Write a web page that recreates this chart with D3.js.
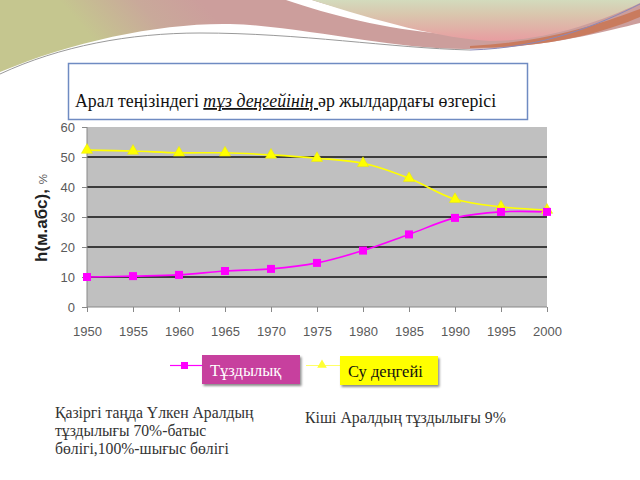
<!DOCTYPE html>
<html><head><meta charset="utf-8">
<script src="https://cdn.jsdelivr.net/npm/d3@7"></script>
<style>html,body{margin:0;padding:0;background:#fff;}svg{display:block;}</style>
</head><body>
<svg id="c" width="640" height="480"></svg>
<script>
const years = [1950,1955,1960,1965,1970,1975,1980,1985,1990,1995,2000];
const salinity = [10,10.3,10.7,12,12.7,14.7,18.8,24.2,29.7,31.7,31.7];
const waterLevel = [52.3,52,51.4,51.4,50.7,49.6,47.9,42.9,35.9,33.4,32.3];
const yTicks = [0,10,20,30,40,50,60];
const seriesNames = ["Тұздылық","Су деңгейі"];
const titleParts = ["Арал теңізіндегі ","тұз деңгейінің ","әр жылдардағы өзгерісі"];
const noteLeft = ["Қазіргі таңда Үлкен Аралдың","тұздылығы 70%-батыс","бөлігі,100%-шығыс бөлігі"];
const noteRight = "Кіші Аралдың тұздылығы 9%";

const svg = d3.select("#c");
const defs = svg.append("defs");
const g1 = defs.append("linearGradient").attr("id","gl").attr("gradientUnits","userSpaceOnUse")
  .attr("x1",200).attr("y1",0).attr("x2",120).attr("y2",70);
g1.append("stop").attr("offset","0").attr("stop-color","#cc9e9c");
g1.append("stop").attr("offset","0.45").attr("stop-color","#c9a99a");
g1.append("stop").attr("offset","1").attr("stop-color","#c5c68f");
const g2 = defs.append("linearGradient").attr("id","gr").attr("gradientUnits","userSpaceOnUse")
  .attr("x1",0).attr("y1",0).attr("x2",0).attr("y2",40);
g2.append("stop").attr("offset","0").attr("stop-color","#d3dbbd");
g2.append("stop").attr("offset","0.35").attr("stop-color","#d9c7ae");
g2.append("stop").attr("offset","1").attr("stop-color","#e79ea1");

// decoration
const deco = svg.append("g");
deco.append("path").attr("d","M0,0 H640 V23 C600,33 540,48 470,49 C400,50 330,32 250,25 C180,19 80,38 0,72 Z").attr("fill","url(#gl)");
deco.append("path").attr("d","M286,0 C330,15 385,29 445,34 L452,31 C395,24 345,10 312,0 Z").attr("fill","#fff");
deco.append("path").attr("d","M312,0 H640 V3 C600,22 545,41 490,41 C440,38 380,22 312,0 Z").attr("fill","url(#gr)");
deco.append("path").attr("d","M470,46 C550,42 605,22 640,9 L640,17 C605,32 550,48 470,48 Z").attr("fill","#c97b5e");
deco.append("path").attr("d","M0,74 C60,46 130,33 200,33 C300,33 390,48 470,50").attr("fill","none").attr("stroke","#9a9a9a").attr("stroke-width",1);
deco.append("path").attr("d","M470,50 C545,48 600,24 640,4").attr("fill","none").attr("stroke","#8a88b8").attr("stroke-width",1);

// title box
svg.append("rect").attr("x",68.5).attr("y",63.5).attr("width",459).attr("height",56)
  .attr("fill","#fff").attr("stroke","#6f8bc2").attr("stroke-width",1.5);
const tt = svg.append("text").attr("x",75).attr("y",107)
  .attr("font-family","Liberation Serif, Times New Roman, serif").attr("font-size",17.8).attr("fill","#111");
tt.append("tspan").text(titleParts[0]);
tt.append("tspan").attr("font-style","italic").attr("text-decoration","underline").text(titleParts[1]);
tt.append("tspan").text(titleParts[2]);

// chart
const L=87, R=547, T=127, B=307;
const x = d3.scaleLinear().domain([1950,2000]).range([L,R]);
const y = d3.scaleLinear().domain([0,60]).range([B,T]);

svg.append("rect").attr("x",L).attr("y",T).attr("width",R-L).attr("height",B-T).attr("fill","#c0c0c0");
svg.append("g").selectAll("line").data(yTicks.filter(d=>d>0&&d<60)).join("line")
  .attr("x1",L).attr("x2",R).attr("y1",d=>y(d)).attr("y2",d=>y(d))
  .attr("stroke","#111").attr("stroke-width",1.6);

const yAxis = svg.append("g").attr("transform",`translate(${L},0)`)
  .call(d3.axisLeft(y).tickValues(yTicks).tickSize(5).tickPadding(7));
const xAxis = svg.append("g").attr("transform",`translate(0,${B})`)
  .call(d3.axisBottom(x).tickValues(years).tickSize(5).tickPadding(15).tickFormat(d3.format("d")));
[yAxis,xAxis].forEach(a=>{
  a.selectAll("path,line").attr("stroke","#888").attr("stroke-width",1);
  a.selectAll("text").attr("font-family","Liberation Sans, Arial, sans-serif").attr("font-size",13).attr("fill","#5a5a5a");
});
yAxis.select(".domain").attr("d",`M0,${T}V${B}`);
xAxis.select(".domain").attr("d",`M${L},0H${R}`);

const line = d3.line().x((d,i)=>x(years[i])).y(d=>y(d)).curve(d3.curveCatmullRom.alpha(0.5));
svg.append("path").attr("d",line(waterLevel)).attr("fill","none").attr("stroke","#ffff00").attr("stroke-width",1.6);
svg.append("path").attr("d",line(salinity)).attr("fill","none").attr("stroke","#ff00ff").attr("stroke-width",1.6);
const tri = d3.symbol().type(d3.symbolTriangle).size(55);
svg.append("g").selectAll("path").data(waterLevel).join("path")
  .attr("d",tri).attr("transform",(d,i)=>`translate(${x(years[i])},${y(d)})`).attr("fill","#ffff00").attr("stroke","#e8e800").attr("stroke-width",0.5);
svg.append("g").selectAll("rect").data(salinity).join("rect")
  .attr("x",(d,i)=>x(years[i])-4).attr("y",d=>y(d)-4).attr("width",8).attr("height",8).attr("fill","#ff00ff");

// y title
const yt = svg.append("text").attr("transform","translate(47,262) rotate(-90)")
  .attr("font-family","Liberation Sans, Arial, sans-serif").attr("fill","#222");
yt.append("tspan").attr("font-weight","bold").attr("font-size",17).text("h(м.абс), ");
yt.append("tspan").attr("font-size",11.5).attr("fill","#555").text("%");

// legend
const lg = svg.append("g");
lg.append("line").attr("x1",170).attr("x2",202).attr("y1",365.5).attr("y2",365.5).attr("stroke","#ff00ff").attr("stroke-width",1.2);
lg.append("rect").attr("x",181).attr("y",362).attr("width",7).attr("height",7).attr("fill","#ff00ff");
lg.append("line").attr("x1",306).attr("x2",340).attr("y1",365.5).attr("y2",365.5).attr("stroke","#ffff66").attr("stroke-width",1.2);
lg.append("path").attr("d",d3.symbol().type(d3.symbolTriangle).size(40)).attr("transform","translate(322,365)").attr("fill","#ffff33");
const sh = defs.append("filter").attr("id","sh").attr("x","-10%").attr("y","-10%").attr("width","130%").attr("height","140%");
sh.append("feDropShadow").attr("dx",1.5).attr("dy",2).attr("stdDeviation",1.2).attr("flood-color","#000").attr("flood-opacity",0.45);
lg.append("rect").attr("x",202).attr("y",355).attr("width",98).attr("height",29).attr("fill","#c7419e").attr("filter","url(#sh)");
lg.append("rect").attr("x",340).attr("y",356).attr("width",98).attr("height",29).attr("fill","#ffff00").attr("filter","url(#sh)");
lg.append("text").attr("x",210).attr("y",376).attr("font-family","Liberation Serif, Times New Roman, serif").attr("font-size",16.5).attr("fill","#fff").text(seriesNames[0]);
lg.append("text").attr("x",348).attr("y",377).attr("font-family","Liberation Serif, Times New Roman, serif").attr("font-size",16.5).attr("fill","#111").text(seriesNames[1]);

// notes
svg.append("g").selectAll("text").data(noteLeft).join("text")
  .attr("x",55).attr("y",(d,i)=>418+i*18).attr("font-family","Liberation Serif, Times New Roman, serif")
  .attr("font-size",15.7).attr("fill","#333").text(d=>d);
svg.append("text").attr("x",305).attr("y",423).attr("font-family","Liberation Serif, Times New Roman, serif")
  .attr("font-size",15.8).attr("fill","#333").text(noteRight);
</script>
</body></html>
